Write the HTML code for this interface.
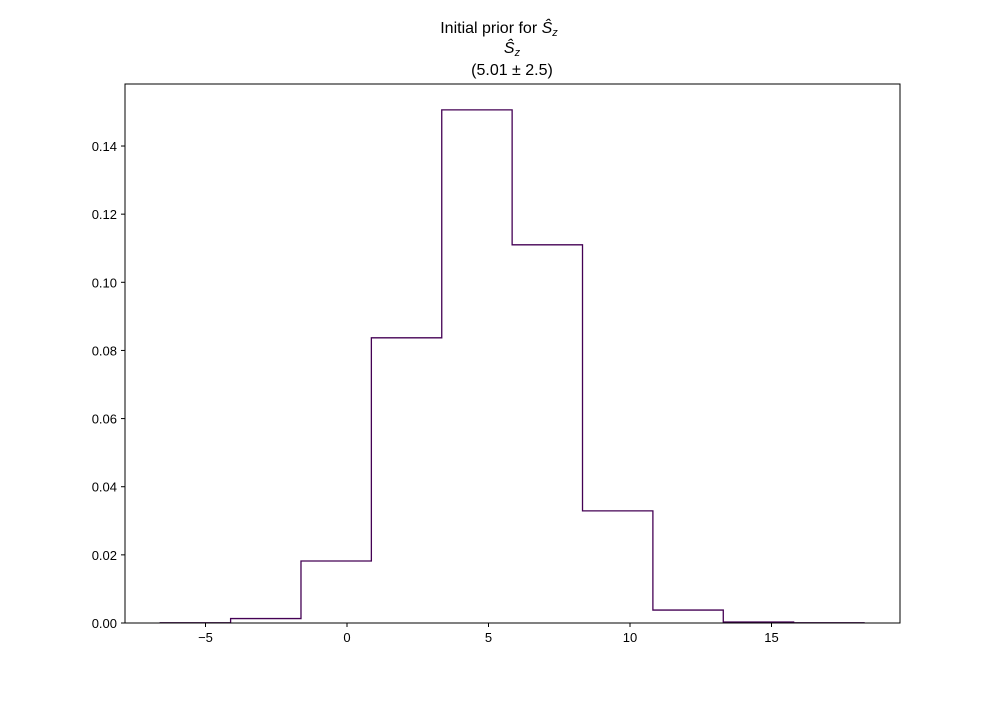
<!DOCTYPE html>
<html><head><meta charset="utf-8"><style>
body{margin:0;background:#fff;}
svg{font-family:"Liberation Sans","DejaVu Sans",sans-serif;}
</style></head><body>
<svg id="chart" width="1000" height="700" viewBox="0 0 1000 700">
<rect width="1000" height="700" fill="#fff"/>
<g text-anchor="middle" font-size="16" fill="#000">
<text x="499" y="33">Initial prior for <tspan font-style="italic">Ŝ</tspan><tspan font-style="italic" font-size="11" dy="3">z</tspan></text>
<text x="512" y="53"><tspan font-style="italic">Ŝ</tspan><tspan font-style="italic" font-size="11" dy="3">z</tspan></text>
<text x="512" y="75">(5.01 ± 2.5)</text>
</g>
<g id="plot"></g>
</svg>
<script>
const binEdges=[-6.6,-4.113,-1.626,0.861,3.348,5.835,8.322,10.809,13.296,15.783,18.27];
const densities=[0.00005,0.0013,0.0182,0.0837,0.1506,0.111,0.0329,0.0038,0.0003,0.00005];
const xTicks=[-5,0,5,10,15];
const yTicks=[0,0.02,0.04,0.06,0.08,0.10,0.12,0.14];
const yTickLabels=["0.00","0.02","0.04","0.06","0.08","0.10","0.12","0.14"];
const L=125,R=900,T=84,B=623;
const xs=v=>347+(v-0)*28.3;
const ys=v=>B-v*3407;
const ns="http://www.w3.org/2000/svg";
const g=document.getElementById('plot');
function mk(t,a){const e=document.createElementNS(ns,t);for(const k in a)e.setAttribute(k,a[k]);g.appendChild(e);return e;}
let d="M"+xs(binEdges[0])+","+ys(0);
for(let i=0;i<densities.length;i++){d+=" L"+xs(binEdges[i])+","+ys(densities[i])+" L"+xs(binEdges[i+1])+","+ys(densities[i]);}
d+=" L"+xs(binEdges[binEdges.length-1])+","+ys(0);
const p=mk('path',{d:d,fill:'none',stroke:'#440154','stroke-width':1.3});


const fr=mk('rect',{x:L,y:T,width:R-L,height:B-T,fill:'none',stroke:'#000','stroke-width':1});


xTicks.forEach(v=>{
 const x=xs(v);
 const l=mk('line',{x1:x,x2:x,y1:B,y2:B+4,stroke:'#000'});
 
 
 const t=mk('text',{x:x,y:B+19,'text-anchor':'middle','font-size':13});
 t.textContent=v<0?'−'+(-v):String(v);
 
 
});
yTicks.forEach((v,i)=>{
 const y=ys(v);
 const l=mk('line',{x1:L-4,x2:L,y1:y,y2:y,stroke:'#000'});
 
 
 const t=mk('text',{x:L-8,y:y+5,'text-anchor':'end','font-size':13});
 t.textContent=yTickLabels[i];
 
 
});
</script>
</body></html>
